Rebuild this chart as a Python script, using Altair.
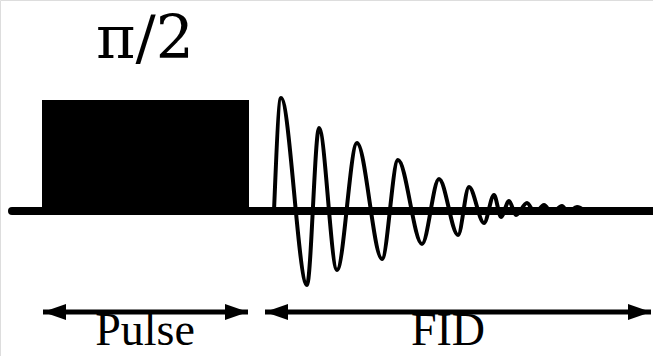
import altair as alt
import pandas as pd

# ---- data (pixel-space diagram coordinates) ----
baseline_x = [12, 653]
baseline_y = [211, 211]

pulse_x = [42, 249]
pulse_y = [100, 211]

fid_x = [274, 281, 307, 319, 337, 357, 382, 398, 422, 439, 458, 469, 484,
         494, 501, 509, 516, 527, 535, 544, 552, 562, 568, 577, 585]
fid_y = [211, 98, 285, 128, 270, 143, 259, 160, 244, 179, 235, 187, 223,
         195, 217, 201, 215, 203, 213, 205, 213, 206, 212, 207, 211]

arrow_start = [43, 265]
arrow_end = [248, 651]
arrow_y = [312, 312]

labels = ["Pulse", "FID"]
label_x = [145, 448]
label_y = [355, 355]

title_text = ["π/2"]
title_x = [145]
title_y = [58]

# ---- scales ----
W, H = 653, 356
xs = alt.Scale(domain=[0, W], range=[0, W], nice=False, zero=False)
ys = alt.Scale(domain=[0, H], range=[0, H], nice=False, zero=False)

def X(f, t="Q"):
    return alt.X(f"{f}:{t}", scale=xs, axis=None)

def Y(f, t="Q"):
    return alt.Y(f"{f}:{t}", scale=ys, axis=None)

base_df = pd.DataFrame({"x": [baseline_x[0]], "x2": [baseline_x[1]], "y": [baseline_y[0]]})
pulse_df = pd.DataFrame({"x": [pulse_x[0]], "x2": [pulse_x[1]], "y": [pulse_y[0]], "y2": [pulse_y[1]]})
fid_df = pd.DataFrame({"x": fid_x, "y": fid_y})
arr_df = pd.DataFrame({"x": arrow_start, "x2": arrow_end, "y": arrow_y})
lab_df = pd.DataFrame({"x": label_x, "y": label_y, "t": labels})
tit_df = pd.DataFrame({"x": title_x, "y": title_y, "t": title_text})

baseline = alt.Chart(base_df).mark_rule(color="black", strokeWidth=8, strokeCap="round").encode(
    x=X("x"), x2="x2", y=Y("y"))

pulse = alt.Chart(pulse_df).mark_rect(color="black").encode(
    x=X("x"), x2="x2", y=Y("y"), y2="y2")

fid = alt.Chart(fid_df).mark_line(color="black", strokeWidth=4, interpolate="monotone").encode(
    x=X("x"), y=Y("y"))

shafts = alt.Chart(arr_df).mark_rule(color="black", strokeWidth=5).encode(
    x=X("x"), x2="x2", y=Y("y"))

head_l = alt.Chart(arr_df).mark_point(filled=True, shape="M0,0L2,-0.7L2,0.7Z", size=529,
                                      color="black", opacity=1, strokeWidth=0).encode(
    x=X("x"), y=Y("y"))
head_r = alt.Chart(arr_df).mark_point(filled=True, shape="M0,0L-2,-0.7L-2,0.7Z", size=529,
                                      color="black", opacity=1, strokeWidth=0).encode(
    x=X("x2"), y=Y("y"))

label_marks = alt.Chart(lab_df).mark_text(font="'Liberation Serif', 'Times New Roman', serif",
                                          fontSize=46, color="black",
                                          align="center", baseline="bottom").encode(
    x=X("x"), y=Y("y"), text="t:N")

title_mark = alt.Chart(tit_df).mark_text(font="'DejaVu Serif', serif", fontSize=60, color="black",
                                         align="center", baseline="alphabetic").encode(
    x=X("x"), y=Y("y"), text="t:N")

chart = alt.layer(pulse, baseline, fid, shafts, head_l, head_r, label_marks, title_mark).properties(
    width=W, height=H, padding=0, autosize=alt.AutoSizeParams(type="none")
).configure_view(stroke=None).configure(background="white")

chart.save("out.html", embed_options={"renderer": "svg", "actions": False})
